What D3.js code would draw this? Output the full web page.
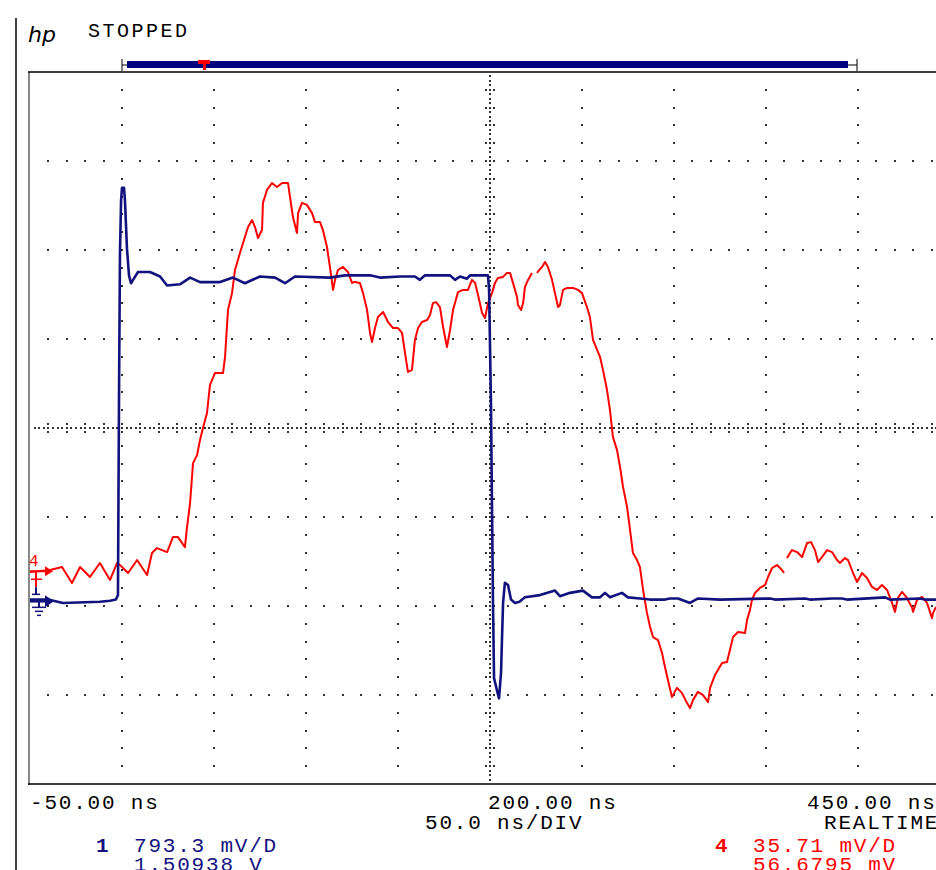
<!DOCTYPE html>
<html>
<head>
<meta charset="utf-8">
<script src="https://cdn.jsdelivr.net/npm/d3@7"></script>
<style>
  body { margin: 0; background: #fff; }
  svg { display: block; }
  text { font-family: "Liberation Mono", "DejaVu Sans Mono", monospace; font-size: 21px; letter-spacing: 1.8px; }
</style>
</head>
<body>
<svg id="scope"></svg>
<script>
// scope settings
var timeStart = -50, timePerDiv = 50, timeDivs = 10;   // ns
var ch1PerDiv = 0.7933, ch1Offset = 1.50938;           // V
var ch4PerDiv = 35.71, ch4Offset = 56.6795;            // mV
var timeLabels = ["-50.00 ns", "200.00 ns", "450.00 ns"];

// channel 1 (navy), time in ns, value in V
var ch1Time = [-50,-40.2,-32.1,-12.0,-6.5,-3.3,-2.2,-1.6,-1.1,-0.5,0.0,1.1,1.6,2.7,3.8,4.9,6.0,8.7,15.2,20.7,24.5,31.5,37.0,42.4,53.3,60.3,66.8,75.0,83.2,88.6,94.0,113.0,121.2,134.8,140.2,151.1,159.2,161.9,164.7,178.3,181.0,183.7,187.5,189.1,198.9,199.5,200.5,201.6,202.2,203.8,204.9,206.0,206.5,207.1,208.1,209.8,211.4,213.6,216.0,219.0,227.2,235.3,238.0,243.5,250.5,255.4,259.8,262.5,265.2,271.7,275.0,281.5,287.0,295.1,297.8,302.2,308.7,313.1,325.0,352.2,354.9,371.2,373.9,385.9,391.3,394.0,414.7,417.4,433.7,436.4,442.4];
var ch1Volts = [-0.02,-0.02,-0.05,-0.04,-0.03,-0.02,0.02,1.85,3.07,3.54,3.65,3.65,3.54,3.11,2.87,2.80,2.83,2.90,2.90,2.86,2.78,2.79,2.85,2.81,2.81,2.85,2.80,2.86,2.85,2.80,2.86,2.85,2.87,2.87,2.85,2.86,2.86,2.83,2.87,2.87,2.83,2.86,2.84,2.87,2.87,2.74,1.76,-0.02,-0.72,-0.83,-0.90,-0.67,-0.38,-0.05,0.13,0.11,-0.02,-0.05,-0.04,0.00,0.02,0.06,0.01,0.04,0.06,0.00,0.00,0.04,0.00,0.04,0.00,-0.01,-0.02,-0.02,-0.01,-0.01,-0.05,-0.01,-0.02,-0.01,-0.02,-0.01,-0.02,-0.01,-0.01,-0.02,0.00,-0.02,-0.01,-0.02,-0.02];

// channel 4 (red), time in ns, value in mV (null = gap in trace)
var ch4Time = [-50.0,-39.1,-32.6,-27.2,-22.8,-17.4,-12.0,-6.5,-2.7,-1.1,3.3,8.2,13.6,16.3,19.0,24.5,27.7,30.4,34.2,35.3,37.0,38.6,40.8,42.4,44.0,46.2,47.8,50.5,54.9,56.0,57.6,59.8,61.4,64.1,66.8,68.5,70.7,72.3,73.9,76.1,76.6,78.8,81.5,84.2,87.0,90.2,91.3,92.9,95.1,95.7,97.8,100.5,103.3,104.9,107.6,109.2,111.4,113.0,114.7,115.8,117.4,120.1,122.8,125.0,126.6,129.3,131.0,133.2,134.8,135.9,137.5,139.1,141.9,144.6,147.3,150.0,152.2,153.8,155.4,157.6,159.2,160.9,163.0,165.8,167.4,169.0,170.7,172.8,174.5,176.6,178.3,179.9,182.6,185.3,188.0,190.2,191.9,193.5,195.7,197.3,198.9,201.1,202.7,204.3,207.1,209.2,210.9,212.5,214.7,215.2,216.9,218.0,219.0,220.7,222.8,224.2,225.5,228.3,229.9,231.5,233.7,235.3,237.0,238.0,239.7,241.9,245.1,247.8,250.0,252.7,254.3,256.0,258.2,259.8,261.4,263.6,265.2,266.8,269.0,270.7,272.3,274.5,276.1,277.7,279.9,281.5,283.2,285.3,287.0,288.6,291.3,293.5,295.1,296.7,298.9,301.6,304.3,307.1,308.7,310.3,313.0,315.8,318.5,319.6,322.3,326.1,328.8,330.4,332.1,334.8,338.6,339.7,341.3,342.4,344.0,346.7,349.5,351.1,353.3,356.0,358.7,359.8,360.6,361.4,364.1,366.9,369.6,372.3,374.5,376.6,378.3,380.4,383.2,385.9,388.6,390.2,392.9,394.6,397.3,399.5,402.2,404.9,407.6,410.3,413.0,415.8,418.5,420.1,421.7,423.9,426.6,429.4,429.9,432.1,434.8,437.5,440.2,440.8,442.4];
var ch4mV = [-1.1,-0.3,0.9,-5.5,0.9,-3.1,2.5,-4.3,2.5,1.7,-1.5,3.7,-2.3,6.5,8.5,6.9,12.9,12.9,8.9,16.6,26.6,42.6,45.8,51.9,56.7,62.7,73.9,78.7,78.7,85.2,104.0,110.8,120.1,126.9,133.3,137.3,140.1,137.3,132.9,136.1,147.0,152.2,155.0,153.4,155.0,155.0,149.4,141.3,134.9,142.9,147.0,146.2,142.9,139.3,139.3,136.1,129.3,121.3,112.1,116.1,120.1,121.3,119.3,114.9,115.3,114.9,110.8,104.0,94.8,91.2,96.8,101.2,103.2,99.2,96.8,96.8,94.8,86.8,79.2,80.0,92.0,96.8,99.2,100.0,102.0,106.8,107.2,105.2,97.2,89.2,96.0,104.0,111.2,112.1,112.1,116.1,114.9,110.0,102.8,100.8,106.8,110.8,114.9,116.9,117.3,118.9,118.9,114.9,109.2,106.0,104.0,106.8,113.3,116.1,118.9,null,118.9,121.3,123.3,121.3,116.1,110.8,105.2,106.0,112.1,112.9,112.9,112.1,110.8,105.2,101.2,92.0,88.0,85.2,80.0,71.9,63.9,53.1,47.9,41.0,33.0,25.0,15.8,6.5,3.7,0.9,-8.3,-17.5,-23.2,-27.2,-28.4,-33.6,-39.2,-44.4,-51.3,-47.6,-49.6,-53.7,-55.7,-52.5,-49.2,-50.5,-53.3,-47.6,-42.4,-37.6,-37.2,-32.4,-27.2,-25.2,-25.6,-20.4,-16.3,-12.3,-9.5,-7.5,-6.3,-3.1,0.5,1.7,-0.3,-1.5,null,4.5,7.7,6.9,4.9,10.5,10.9,7.7,2.9,4.9,7.7,6.9,3.7,2.5,4.5,3.7,-1.5,-5.1,-1.5,-3.5,-7.1,-8.3,-6.3,-8.3,-13.5,-17.1,-11.5,-9.1,-11.5,-15.5,-17.1,-12.3,-11.1,-13.5,-19.6,-17.5,-15.1];

const navy = "#12127f";
const red = "#ff0000";
const W = 936, H = 870;
const plot = {left: 30, top: 72, right: 950, bottom: 784};

var svg = d3.select("#scope").attr("width", W).attr("height", H);

var x = d3.scaleLinear()
  .domain([timeStart, timeStart + timeDivs * timePerDiv])
  .range([plot.left, plot.right]);
var div = d3.scaleLinear().domain([-4, 4]).range([plot.bottom, plot.top]);
var y1 = d3.scaleLinear()
  .domain([ch1Offset - 4 * ch1PerDiv, ch1Offset + 4 * ch1PerDiv])
  .range([plot.bottom, plot.top]);
var y4 = d3.scaleLinear()
  .domain([ch4Offset - 4 * ch4PerDiv, ch4Offset + 4 * ch4PerDiv])
  .range([plot.bottom, plot.top]);

// outer borders
svg.append("line").attr("x1", 16).attr("x2", 16).attr("y1", 18).attr("y2", H)
  .attr("stroke", "#000").attr("stroke-width", 1.5);
svg.append("line").attr("x1", plot.left - 1).attr("x2", plot.left - 1).attr("y1", plot.top).attr("y2", plot.bottom + 1)
  .attr("stroke", "#888").attr("stroke-width", 2);
svg.append("line").attr("x1", plot.left - 2).attr("x2", W).attr("y1", plot.top).attr("y2", plot.top)
  .attr("stroke", "#000").attr("stroke-width", 1.5);
svg.append("line").attr("x1", plot.left - 2).attr("x2", W).attr("y1", plot.bottom).attr("y2", plot.bottom)
  .attr("stroke", "#000").attr("stroke-width", 1.5);

// graticule dots
var grid = svg.append("g").attr("fill", "#333");
var minorT = d3.range(timeStart, timeStart + timeDivs * timePerDiv + 1, timePerDiv / 5);
var majorT = d3.range(timeStart + timePerDiv, timeStart + timeDivs * timePerDiv, timePerDiv);
var minorDiv = d3.range(-4, 4.01, 0.2);
var majorDiv = [-3, -2, -1, 1, 2, 3];
var centerT = timeStart + timeDivs * timePerDiv / 2;

function dot(px, py, s) {
  s = s || 2;
  grid.append("rect").attr("x", Math.round(px) - 1).attr("y", Math.round(py) - 1)
    .attr("width", s).attr("height", s);
}
majorDiv.forEach(function(d) {
  minorT.forEach(function(t) { if (t > timeStart) dot(x(t), div(d)); });
});
majorT.forEach(function(t) {
  if (t === centerT) return;
  minorDiv.forEach(function(d) { if (d > -4 && d < 4) dot(x(t), div(d)); });
});
// centre cross-hair: dense dots, ticks at each minor division
d3.range(timeStart, timeStart + timeDivs * timePerDiv, timePerDiv / 20).forEach(function(t, i) {
  if (t <= timeStart) return;
  dot(x(t), div(0));
  if (i % 4 === 0) { dot(x(t), div(0) - 4); dot(x(t), div(0) + 4); }
});
d3.range(-4, 4, 0.05).forEach(function(d, i) {
  if (d <= -4) return;
  dot(x(centerT), div(d));
  if (i % 4 === 0) { dot(x(centerT) - 4, div(d)); dot(x(centerT) + 4, div(d)); }
});

// traces
var ch1 = ch1Time.map(function(t, i) { return {t: t, v: ch1Volts[i]}; });
var ch4 = ch4Time.map(function(t, i) { return {t: t, v: ch4mV[i]}; });

svg.append("defs").append("clipPath").attr("id", "clip")
  .append("rect").attr("x", plot.left).attr("y", plot.top).attr("width", plot.right - plot.left).attr("height", plot.bottom - plot.top);

var traces = svg.append("g").attr("clip-path", "url(#clip)");
traces.append("path")
  .datum(ch4)
  .attr("fill", "none").attr("stroke", red).attr("stroke-width", 2)
  .attr("stroke-linejoin", "round")
  .attr("d", d3.line().defined(function(d) { return d.v !== null; })
    .x(function(d) { return x(d.t); }).y(function(d) { return y4(d.v); }));
traces.append("path")
  .datum(ch1)
  .attr("fill", "none").attr("stroke", navy).attr("stroke-width", 2.6)
  .attr("stroke-linejoin", "round")
  .attr("d", d3.line().x(function(d) { return x(d.t); }).y(function(d) { return y1(d.v); }));

// ground / trigger markers on the left edge
var g4 = y4(0), g1 = y1(0);
var mk = svg.append("g");
mk.append("text").attr("x", 29).attr("y", g4 - 3).attr("fill", red)
  .style("font-size", "16px").style("letter-spacing", "0").text("4");
mk.append("line").attr("x1", 30).attr("x2", 47).attr("y1", g4 + 2).attr("y2", g4 + 2).attr("stroke", red).attr("stroke-width", 2);
mk.append("path").attr("d", "M45," + (g4 - 3) + "L53," + (g4 + 2) + "L45," + (g4 + 7) + "Z").attr("fill", red);
mk.append("line").attr("x1", 36).attr("x2", 36).attr("y1", g4 + 2).attr("y2", g4 + 18).attr("stroke", red).attr("stroke-width", 2);
mk.append("line").attr("x1", 31).attr("x2", 42).attr("y1", g4 + 10).attr("y2", g4 + 10).attr("stroke", red).attr("stroke-width", 1.5);
mk.append("line").attr("x1", 36).attr("x2", 36).attr("y1", g1 - 10).attr("y2", g1 - 3).attr("stroke", navy).attr("stroke-width", 2);
mk.append("line").attr("x1", 32).attr("x2", 40).attr("y1", g1 - 3).attr("y2", g1 - 3).attr("stroke", navy).attr("stroke-width", 1.5);
mk.append("line").attr("x1", 30).attr("x2", 48).attr("y1", g1 + 4).attr("y2", g1 + 4).attr("stroke", navy).attr("stroke-width", 2.5);
mk.append("path").attr("d", "M45," + (g1 - 2) + "L54," + (g1 + 4) + "L45," + (g1 + 10) + "Z").attr("fill", navy);
mk.append("line").attr("x1", 39).attr("x2", 39).attr("y1", g1 + 4).attr("y2", g1 + 10).attr("stroke", navy).attr("stroke-width", 2);
[[32, 46, 10], [35, 43, 14], [37, 41, 18]].forEach(function(s) {
  mk.append("line").attr("x1", s[0]).attr("x2", s[1]).attr("y1", g1 + s[2]).attr("y2", g1 + s[2])
    .attr("stroke", navy).attr("stroke-width", 1.5);
});

// header
svg.append("text").attr("x", 28).attr("y", 42)
  .style("font-family", "'DejaVu Sans', sans-serif").style("font-style", "italic")
  .style("font-size", "22px").style("letter-spacing", "0").text("hp");
svg.append("text").attr("x", 88).attr("y", 37).style("font-size", "20px").style("letter-spacing", "2.5px").text("STOPPED");

// time bar
var bar = svg.append("g");
bar.append("line").attr("x1", 122).attr("x2", 122).attr("y1", 59).attr("y2", 71).attr("stroke", "#000");
bar.append("line").attr("x1", 857).attr("x2", 857).attr("y1", 59).attr("y2", 71).attr("stroke", "#000");
bar.append("line").attr("x1", 122).attr("x2", 857).attr("y1", 65).attr("y2", 65).attr("stroke", "#000");
bar.append("rect").attr("x", 127).attr("y", 61).attr("width", 721).attr("height", 7).attr("fill", "#000080");
bar.append("rect").attr("x", 198).attr("y", 60).attr("width", 12).attr("height", 4).attr("fill", red);
bar.append("rect").attr("x", 203).attr("y", 60).attr("width", 3).attr("height", 10).attr("fill", red);

// bottom readout
var foot = svg.append("g");
foot.append("text").attr("x", 30).attr("y", 809).text(timeLabels[0]);
foot.append("text").attr("x", 488).attr("y", 809).text(timeLabels[1]);
foot.append("text").attr("x", 807).attr("y", 809).text(timeLabels[2]);
foot.append("text").attr("x", 425).attr("y", 829).text(timePerDiv.toFixed(1) + " ns/DIV");
foot.append("text").attr("x", 824).attr("y", 829).text("REALTIME");
foot.append("text").attr("x", 96).attr("y", 852).attr("fill", navy).style("font-weight", "bold").text("1");
foot.append("text").attr("x", 134).attr("y", 852).attr("fill", navy).text((ch1PerDiv * 1000).toFixed(1) + " mV/D");
foot.append("text").attr("x", 134).attr("y", 871).attr("fill", navy).text(ch1Offset.toFixed(5) + "  V");
foot.append("text").attr("x", 715).attr("y", 852).attr("fill", red).style("font-weight", "bold").text("4");
foot.append("text").attr("x", 753).attr("y", 852).attr("fill", red).text(ch4PerDiv.toFixed(2) + " mV/D");
foot.append("text").attr("x", 753).attr("y", 871).attr("fill", red).text(ch4Offset.toFixed(4) + " mV");
</script>
</body>
</html>
